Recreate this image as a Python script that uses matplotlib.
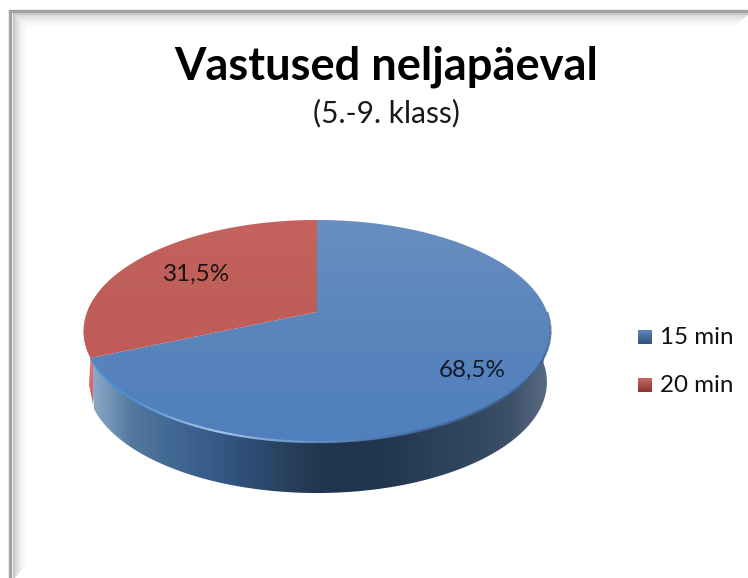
import numpy as np
import matplotlib
matplotlib.use('Agg')
import matplotlib.pyplot as plt
from matplotlib.path import Path
from matplotlib.patches import PathPatch, Rectangle
from matplotlib.collections import LineCollection
from matplotlib.colors import LinearSegmentedColormap

# chart data
categories = ['15 min', '20 min']
shares = [68.5, 31.5]
title = 'Vastused neljapäeval'
subtitle = '(5.-9. klass)'

# pie geometry in picture pixels, k gives the perspective of the tilted disc
cx, cy = 317, 312
A, B, k = 230, 107.8, 0.171
depth = 51
bottom_scale = 0.985


def project(deg):
    t = np.radians(deg)
    x, y = np.cos(t), np.sin(t)
    w = 1 + k * y
    return cx + A * x / w, cy - B * y / w


def gradient(ax, colors, extent, clip=None, horizontal=True, zorder=1):
    cmap = LinearSegmentedColormap.from_list('g', colors)
    data = np.linspace(0, 1, 256)
    data = data.reshape(1, -1) if horizontal else data.reshape(-1, 1)
    im = ax.imshow(data, cmap=cmap, extent=extent, aspect='auto', zorder=zorder,
                   interpolation='bilinear')
    if clip is not None:
        im.set_clip_path(clip)
    return im


def poly(xs, ys):
    return PathPatch(Path(np.column_stack([xs, ys])), transform=ax.transData,
                     facecolor='none', edgecolor='none')


fig = plt.figure(figsize=(7.48, 5.78), dpi=100)
ax = fig.add_axes([0, 0, 1, 1])

# frame with its inner shadow
p = poly([15, 28, 28, 15], [15, 27, 562, 578])
ax.add_patch(p)
gradient(ax, ['#d4d4d4', '#f2f2f2', '#ffffff'], (15, 28, 578, 13), clip=p, zorder=1)
p = poly([15, 748, 734, 28], [15, 15, 27, 27])
ax.add_patch(p)
gradient(ax, ['#d9d9d9', '#f2f2f2', '#ffffff'], (13, 748, 27, 15), clip=p, horizontal=False, zorder=1.1)
ax.plot([748, 10.5, 10.5], [10.8, 10.8, 578], color='#a2a2a2', lw=2.4, zorder=2, solid_joinstyle='miter')
ax.plot([748, 13.8, 13.8], [13.8, 13.8, 578], color='#c4c4c4', lw=1.3, zorder=2, solid_joinstyle='miter')

# the slices go counter clockwise from 12 o'clock, as in the source
start_red = 90
end_red = start_red + shares[1] * 3.6
end_blue = end_red + shares[0] * 3.6

# side wall, only the front part of the disc shows
front = np.linspace(end_red, 360, 300)
fx, fy = project(front)
bx_low = cx + (fx - cx) * bottom_scale
side = poly(np.r_[fx, bx_low[::-1]], np.r_[fy, fy[::-1] + depth])
ax.add_patch(side)
gradient(ax, ['#8ea9ca', '#54799f', '#436a94', '#395c8a', '#2f4f78', '#28425f', '#213650',
              '#20344f', '#243850', '#2b405b', '#32475f', '#3c5068', '#5a6c82'],
         (92, 549, 520, 300), clip=side, zorder=3)

# small red sliver left of the blue wall
rt = np.linspace(180, end_red, 40)
rx, ry = project(rt)
red_side = poly(np.r_[rx, 89, 93, 93], np.r_[ry, 385, 404, 358])
ax.add_patch(red_side)
gradient(ax, ['#e8807c', '#d9605c'], (83, 93, 404, 330), clip=red_side, horizontal=False, zorder=3)

# top faces
bt = np.linspace(end_red, end_blue, 400)
bx, by = project(bt)
blue_top = poly(np.r_[cx, bx, cx], np.r_[cy, by, cy])
ax.add_patch(blue_top)
gradient(ax, ['#6a8fc0', '#5a85bc', '#4f7fbc'], (80, 555, 445, 215), clip=blue_top,
         horizontal=False, zorder=4)

rt2 = np.linspace(start_red, end_red, 200)
rx2, ry2 = project(rt2)
red_top = poly(np.r_[cx, rx2, cx], np.r_[cy, ry2, cy])
ax.add_patch(red_top)
gradient(ax, ['#c5625e', '#bf5f5a', '#c05c58'], (80, 555, 365, 215), clip=red_top,
         horizontal=False, zorder=4)

# bevel along the front edge of the top face
t_edge = np.linspace(end_red, 360, 260)
ex, ey = project(t_edge)
segs = np.stack([np.column_stack([ex[:-1], ey[:-1]]), np.column_stack([ex[1:], ey[1:]])], axis=1)
edge_cmap = LinearSegmentedColormap.from_list('e', ['#4f8fd6', '#4f8fd6', '#a8c8ea', '#5f8fc6',
                                                    '#41679a', '#3a5f8e', '#3f6596', '#5f82ac'])
lc = LineCollection(segs, cmap=edge_cmap, linewidths=1.6, zorder=5)
lc.set_array(np.linspace(0, 1, len(segs)))
ax.add_collection(lc)

# percentage labels
blue_label = '%.1f%%' % shares[0]
red_label = '%.1f%%' % shares[1]
font = ['Lato', 'DejaVu Sans']
ax.text(472, 370, blue_label.replace('.', ','), ha='center', va='center', fontsize=17.5, family=font, color='#111a28', zorder=6)
ax.text(197, 274, red_label.replace('.', ','), ha='center', va='center', fontsize=17.5, family=font, color='#1c1414', zorder=6)

# titles
ax.text(386, 79, title, ha='center', va='baseline', fontsize=32.6, family=font, weight='bold', color='black', zorder=6)
ax.text(386.5, 122, subtitle, ha='center', va='baseline', fontsize=21.5, family=font, color='#1a1a1a', zorder=6)

# legend
key_colors = [('#5f86b8', '#2f527c'), ('#c46a66', '#8c3330')]
for name, ytop, (c1, c2) in zip(categories, [330, 378], key_colors):
    key = Rectangle((638, ytop), 14, 14, transform=ax.transData, facecolor='none', edgecolor='none')
    ax.add_patch(key)
    gradient(ax, [c1, c2], (638, 652, ytop + 14, ytop), clip=key, horizontal=False, zorder=4)
    ax.text(660, ytop + 14, name, ha='left', va='baseline', fontsize=17.4, family=font, color='#111111', zorder=6)

ax.set_xlim(0, 748)
ax.set_ylim(578, 0)
ax.axis('off')
fig.savefig('out.png', dpi=100, facecolor='white')
